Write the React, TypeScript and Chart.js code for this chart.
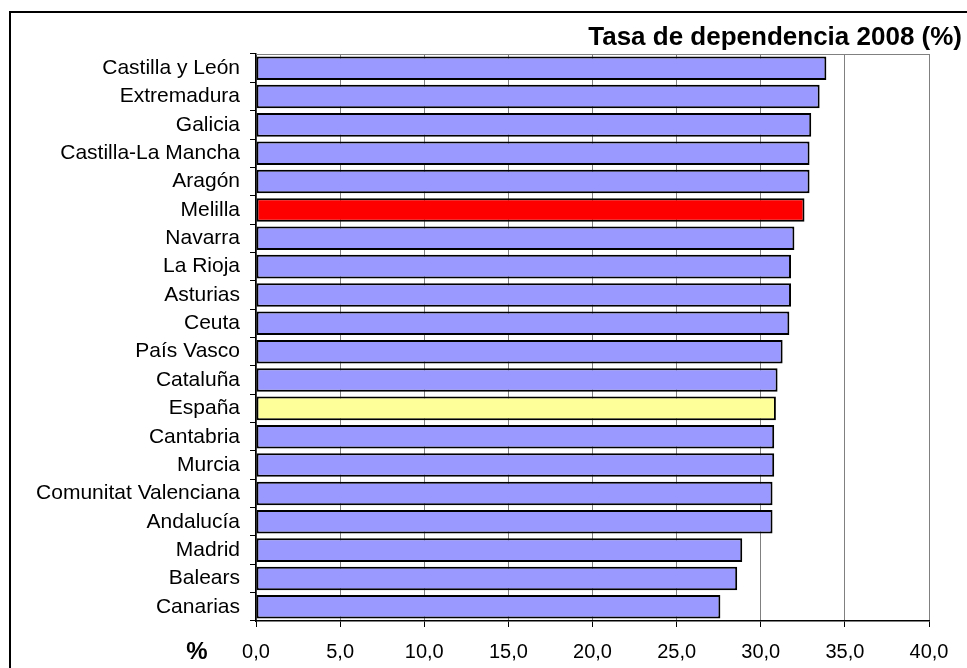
import React, { useEffect, useRef } from "react";
import { Chart, registerables } from "chart.js";

Chart.register(...registerables);

const categories = [
  "Castilla y León",
  "Extremadura",
  "Galicia",
  "Castilla-La Mancha",
  "Aragón",
  "Melilla",
  "Navarra",
  "La Rioja",
  "Asturias",
  "Ceuta",
  "País Vasco",
  "Cataluña",
  "España",
  "Cantabria",
  "Murcia",
  "Comunitat Valenciana",
  "Andalucía",
  "Madrid",
  "Balears",
  "Canarias",
];

const values = [
  33.9, 33.5, 33.0, 32.9, 32.9, 32.6, 32.0, 31.8, 31.8, 31.7, 31.3, 31.0, 30.9,
  30.8, 30.8, 30.7, 30.7, 28.9, 28.6, 27.6,
];

const highlightRed = "Melilla";
const highlightYellow = "España";

const titleText = "Tasa de dependencia 2008 (%)";
const axisUnit = "%";

const FONT = "'Liberation Sans', Arial, sans-serif";

export default function App() {
  const canvasRef = useRef<HTMLCanvasElement | null>(null);

  useEffect(() => {
    const canvas = canvasRef.current;
    if (!canvas) return;

    const colors = categories.map((c) =>
      c === highlightRed ? "#FF0000" : c === highlightYellow ? "#FFFF99" : "#9999FF"
    );

    const decorPlugin = {
      id: "decor",
      afterDraw(chart: any) {
        const ctx = chart.ctx;
        const area = chart.chartArea;
        ctx.save();
        // plot area top border
        ctx.strokeStyle = "#808080";
        ctx.lineWidth = 1;
        ctx.beginPath();
        ctx.moveTo(area.left, area.top + 0.5);
        ctx.lineTo(area.right, area.top + 0.5);
        ctx.stroke();
        // outer frame
        ctx.strokeStyle = "#000000";
        ctx.lineWidth = 2;
        ctx.beginPath();
        ctx.moveTo(chart.width + 5, 12);
        ctx.lineTo(10, 12);
        ctx.lineTo(10, chart.height + 5);
        ctx.stroke();
        // title
        ctx.fillStyle = "#000000";
        ctx.font = `bold 26px ${FONT}`;
        ctx.textAlign = "right";
        ctx.textBaseline = "alphabetic";
        ctx.fillText(titleText, 962, 45);
        // unit label
        ctx.font = `bold 24px ${FONT}`;
        ctx.textAlign = "center";
        ctx.textBaseline = "middle";
        ctx.fillText(axisUnit, 197, 652);
        ctx.restore();
      },
    };

    const chart = new Chart(canvas, {
      type: "bar",
      data: {
        labels: categories,
        datasets: [
          {
            data: values,
            backgroundColor: colors,
            borderColor: "#000000",
            borderWidth: 2,
            borderSkipped: false,
            barPercentage: 0.83,
            categoryPercentage: 1,
          },
        ],
      },
      options: {
        indexAxis: "y",
        animation: false,
        responsive: true,
        maintainAspectRatio: false,
        layout: { padding: { top: 54, right: 38, left: 0, bottom: 0 } },
        plugins: {
          legend: { display: false },
          tooltip: { enabled: false },
          title: { display: false },
        },
        scales: {
          x: {
            min: 0,
            max: 40,
            afterFit(scale: any) {
              scale.height = 47;
            },
            ticks: {
              stepSize: 5,
              color: "#000000",
              padding: 13,
              maxRotation: 0,
              font: { family: FONT, size: 20 },
              callback: (v: any) => Number(v).toFixed(1).replace(".", ","),
            },
            grid: {
              color: "#808080",
              lineWidth: 1,
              tickColor: "#000000",
              tickLength: 6,
              drawOnChartArea: true,
            },
            border: { color: "#000000", width: 1.5 },
          },
          y: {
            afterFit(scale: any) {
              scale.width = 256;
            },
            ticks: {
              color: "#000000",
              padding: 10,
              autoSkip: false,
              font: { family: FONT, size: 21 },
            },
            grid: {
              drawOnChartArea: false,
              tickColor: "#000000",
              tickLength: 6,
              offset: true,
            },
            border: { color: "#000000", width: 1.5 },
          },
        },
      },
      plugins: [decorPlugin],
    });

    return () => chart.destroy();
  }, []);

  return (
    <div
      style={{
        position: "absolute",
        left: 0,
        top: 0,
        width: "967px",
        height: "668px",
        background: "#ffffff",
      }}
    >
      <canvas ref={canvasRef} />
    </div>
  );
}
